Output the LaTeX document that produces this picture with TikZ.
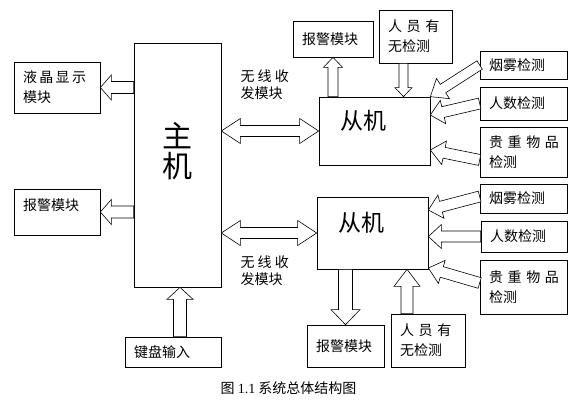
\documentclass[tikz,border=0pt]{standalone}
\usepackage{fontspec}
\setmainfont{Noto Sans CJK SC}
\newfontfamily\serifnum{Liberation Serif}
\usetikzlibrary{calc}

% hollow block arrow: tail, tip, shaft half width, head half width, head length
\newcommand{\fatarrow}[5]{%
  \path ($(#2)!#5!(#1)$) coordinate (fa-h);
  \draw[hollow] ($(#1)!#3!90:(#2)$) -- ($(fa-h)!#3!90:(#2)$) -- ($(fa-h)!#4!90:(#2)$) -- (#2)
    -- ($(fa-h)!#4!-90:(#2)$) -- ($(fa-h)!#3!-90:(#2)$) -- ($(#1)!#3!-90:(#2)$) -- cycle;
}
% hollow block arrow with two heads
\newcommand{\fatdouble}[5]{%
  \path ($(#1)!#5!(#2)$) coordinate (fd-a) ($(#2)!#5!(#1)$) coordinate (fd-b);
  \draw[hollow] (#1) -- ($(fd-a)!#4!90:(#2)$) -- ($(fd-a)!#3!90:(#2)$) -- ($(fd-b)!#3!-90:(#1)$)
    -- ($(fd-b)!#4!-90:(#1)$) -- (#2) -- ($(fd-b)!#4!90:(#1)$) -- ($(fd-b)!#3!90:(#1)$)
    -- ($(fd-a)!#3!-90:(#2)$) -- ($(fd-a)!#4!-90:(#2)$) -- cycle;
}

\begin{document}
\begin{tikzpicture}[x=1pt,y=-1pt,
	box/.style={draw,line width=0.7pt,inner xsep=9pt,inner ysep=0pt,align=left,font=\fontsize{14pt}{20pt}\selectfont},
	hollow/.style={draw,fill=white,line width=0.6pt,line join=miter},
	big/.style={font=\fontsize{#1}{#1+4pt}\selectfont}]
		\useasboundingbox (0,0) rectangle (577,401);
		% host and its modules
		\node [box,big=30pt,align=center,minimum width=87pt,minimum height=244pt,text depth=30pt] (main) at (177.5,165) {主\\机};
		\node [box,text width=68pt,minimum height=51pt] (lcd) at (57,87.5) {液\,晶\,显\,示\\模块};
		\node [box,text width=68pt,minimum height=46pt,text depth=15pt] (alarmL) at (57,212) {报警模块};
		\node [box,text width=78pt,minimum height=30pt] (kbd) at (173,352) {键盘输入};
		% slave 1
		\node [box,big=23pt,text width=69pt,inner xsep=21pt,minimum height=68pt,text depth=22pt] (slave1) at (374.5,131) {从机};
		\node [box,text width=62pt,minimum height=36pt] (alarm1) at (333,39) {报警模块};
		\node [box,text width=55pt,minimum height=53pt] (person1) at (415.5,36.5) {人~员~有\\无检测};
		\node [box,text width=69pt,minimum height=28pt] (smoke1) at (523.5,65) {烟雾检测};
		\node [box,text width=69pt,minimum height=33pt] (count1) at (523.5,103.5) {人数检测};
		\node [box,text width=69pt,minimum height=50pt] (val1) at (523.5,152) {贵~重~物~品\\检测};
		% slave 2
		\node [box,big=23pt,text width=69pt,inner xsep=21pt,minimum height=72pt,text depth=22pt] (slave2) at (372.5,233) {从机};
		\node [box,text width=59pt,minimum height=42pt] (alarm2) at (345.5,346) {报警模块};
		\node [box,text width=56pt,minimum height=53pt] (person2) at (428,340.5) {人~员~有\\无检测};
		\node [box,text width=69pt,minimum height=29pt] (smoke2) at (523.5,198.5) {烟雾检测};
		\node [box,text width=68pt,minimum height=31pt] (count2) at (524,236.5) {人数检测};
		\node [box,text width=69pt,minimum height=54pt] (val2) at (523.5,287) {贵~重~物~品\\检测};
		% radio links
		\node [align=left,anchor=west,font=\fontsize{14pt}{17pt}\selectfont] (radio1) at (237,85) {无~线~收\\发模块};
		\node [align=left,anchor=west,font=\fontsize{14pt}{17pt}\selectfont] (radio2) at (237,271) {无~线~收\\发模块};
		\node [font=\fontsize{14pt}{16pt}\selectfont] (caption) at (288.5,388) {图 {\serifnum 1.1} 系统总体结构图};

		% arrow end points
		\coordinate (lcdT) at (main.west |- lcd.east);
		\coordinate (alarmLT) at (main.west |- alarmL.east);
		\coordinate (kbdT) at ([xshift=7pt]kbd.north);
		\coordinate (kbdH) at (kbdT |- main.south);
		\coordinate (a1T) at (alarm1.south |- slave1.north);
		\coordinate (p1T) at ([xshift=-12pt]person1.south);
		\coordinate (p1H) at (p1T |- slave1.north);
		\coordinate (c1H) at ($(slave1.east)+(0,-16)$);
		\coordinate (v1T) at ($(val1.west)+(0,8)$);
		\coordinate (v1H) at ($(slave1.east)+(0,19)$);
		\coordinate (s2T) at ($(smoke2.west)+(0,-2)$);
		\coordinate (s2H) at ($(slave2.east)+(0,-23)$);
		\coordinate (c2H) at (slave2.east |- count2.west);
		\coordinate (v2T) at ($(val2.west)+(0,-4)$);
		\coordinate (v2H) at ($(slave2.east)+(0,35)$);
		\coordinate (a2T) at (alarm2.north |- slave2.south);
		\coordinate (p2T) at ([xshift=-21pt]person2.north);
		\coordinate (p2H) at (p2T |- slave2.south);
		\coordinate (r1) at (main.east |- slave1.west);
		\coordinate (r2) at (main.east |- slave2.west);

		\fatarrow{lcdT}{lcd.east}{6pt}{12.5pt}{11pt}
		\fatarrow{alarmLT}{alarmL.east}{6pt}{12.5pt}{11pt}
		\fatarrow{kbdT}{kbdH}{6.5pt}{13pt}{12pt}
		\fatarrow{a1T}{alarm1.south}{5pt}{9.5pt}{10pt}
		\fatarrow{p1T}{p1H}{4.5pt}{8.5pt}{9pt}
		\fatarrow{smoke1.west}{slave1.north east}{5pt}{12pt}{15pt}
		\fatarrow{count1.west}{c1H}{5.5pt}{12pt}{13pt}
		\fatarrow{v1T}{v1H}{5.5pt}{12pt}{14pt}
		\fatarrow{s2T}{s2H}{5.5pt}{12pt}{13pt}
		\fatarrow{count2.west}{c2H}{5.5pt}{12pt}{13pt}
		\fatarrow{v2T}{v2H}{5.5pt}{12pt}{14pt}
		\fatarrow{a2T}{alarm2.north}{7pt}{14.5pt}{15pt}
		\fatarrow{p2T}{p2H}{6pt}{13pt}{17pt}
		\fatdouble{r1}{slave1.west}{5.5pt}{12.5pt}{19pt}
		\fatdouble{r2}{slave2.west}{5.5pt}{12.5pt}{19pt}
	\end{tikzpicture}
\end{document}
